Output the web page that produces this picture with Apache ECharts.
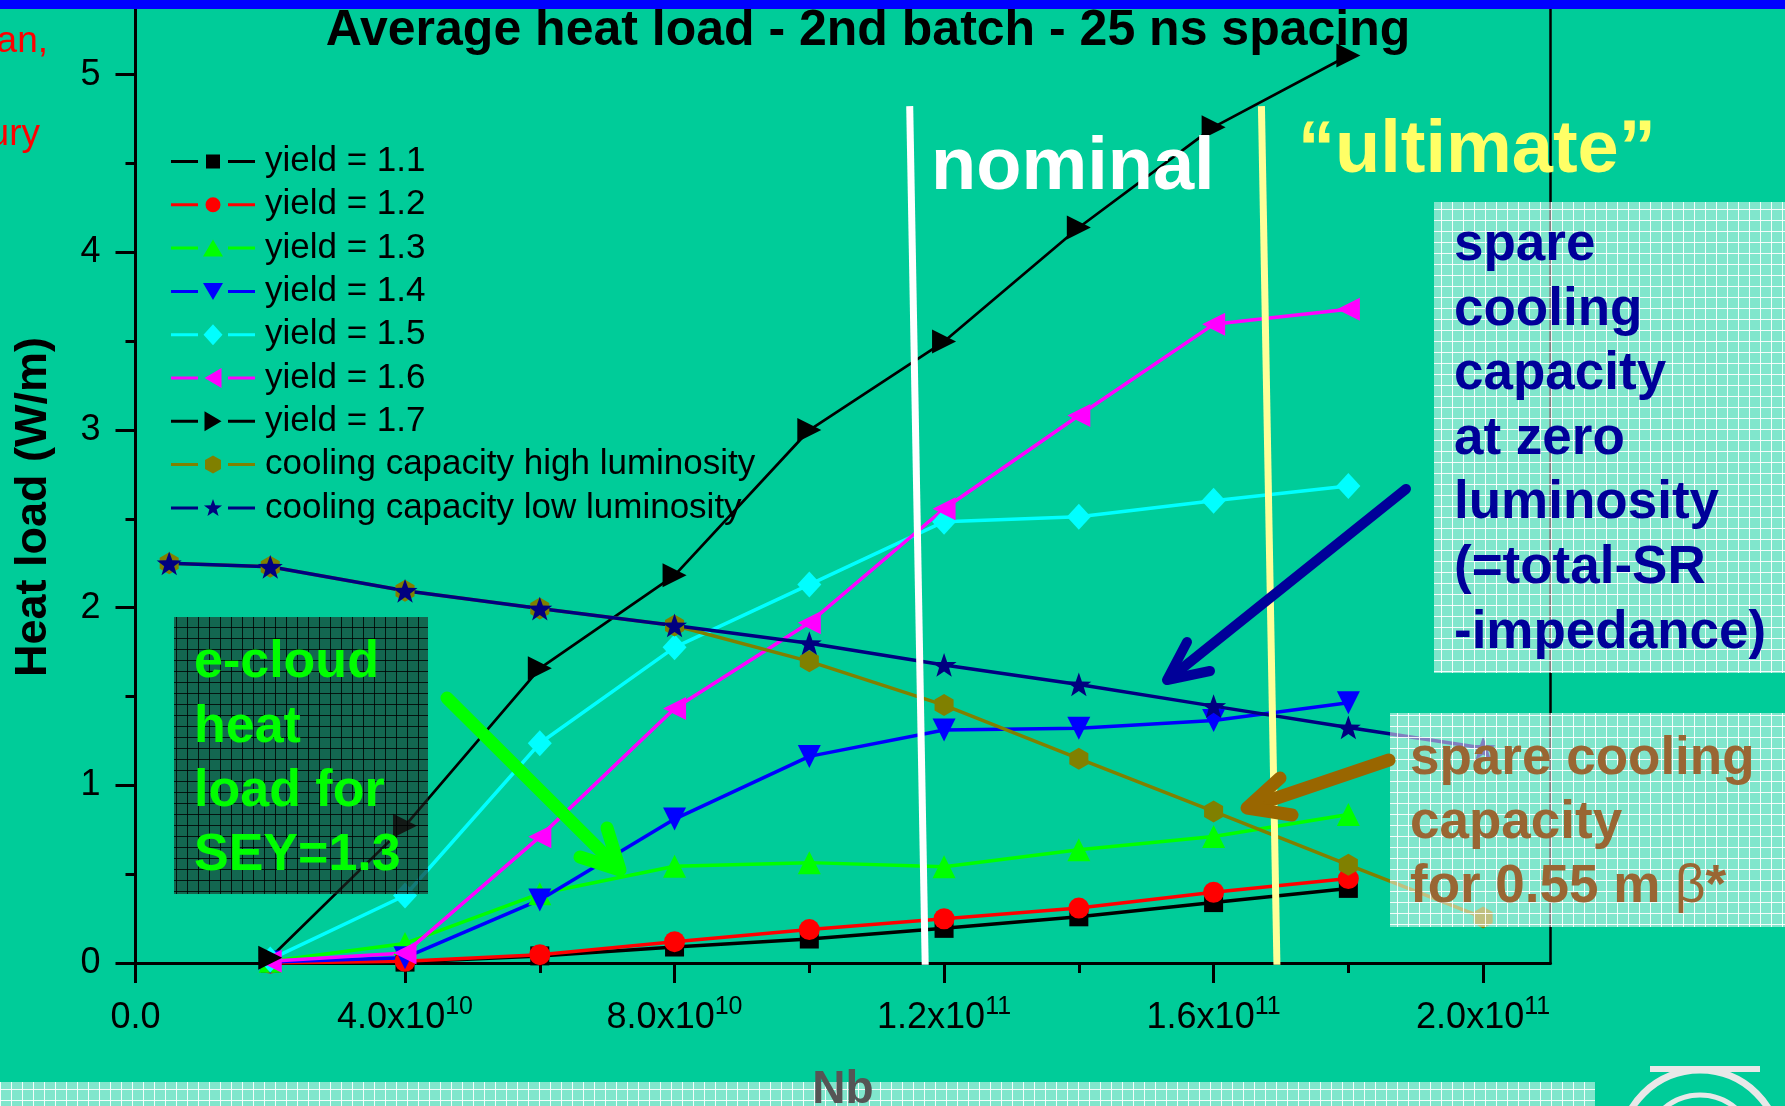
<!DOCTYPE html>
<html>
<head>
<meta charset="utf-8">
<script src="https://cdn.jsdelivr.net/npm/echarts@6/dist/echarts.min.js"></script>
<style>
html,body{margin:0;padding:0;background:#00cc99;}
#chart{width:1785px;height:1106px;}
</style>
</head>
<body>
<div id="chart"></div>
<script>
// ---------- DATA ----------
const nbYield = [2e10, 4e10, 6e10, 8e10, 1e11, 1.2e11, 1.4e11, 1.6e11, 1.8e11];
const yield11 = [0.0, 0.005, 0.04, 0.09, 0.135, 0.195, 0.26, 0.34, 0.42];
const yield12 = [0.0, 0.01, 0.047, 0.12, 0.188, 0.249, 0.309, 0.398, 0.475];
const yield13 = [0.01, 0.11, 0.39, 0.545, 0.565, 0.542, 0.638, 0.712, 0.836];
const yield14 = [0.005, 0.03, 0.355, 0.81, 1.163, 1.312, 1.322, 1.365, 1.465];
const yield15 = [0.02, 0.38, 1.237, 1.777, 2.13, 2.484, 2.512, 2.602, 2.685];
const yield16 = [0.01, 0.056, 0.71, 1.433, 1.915, 2.557, 3.082, 3.595, 3.68];
const yield17 = [0.03, 0.772, 1.659, 2.182, 3.0, 3.498, 4.14, 4.705, 5.108];
const nbCooling = [0.5e10, 2e10, 4e10, 6e10, 8e10, 1e11, 1.2e11, 1.4e11, 1.6e11, 1.8e11, 2e11];
const coolHigh = [2.25, 2.23, 2.095, 1.995, 1.9, 1.698, 1.452, 1.15, 0.853, 0.553, 0.256];
const coolLow  = [2.25, 2.23, 2.095, 1.995, 1.9, 1.8, 1.678, 1.568, 1.446, 1.326, 1.21];

const seriesNames = ['yield = 1.1','yield = 1.2','yield = 1.3','yield = 1.4','yield = 1.5','yield = 1.6','yield = 1.7',
  'cooling capacity high luminosity','cooling capacity low luminosity'];

const xMajorTicks = [0, 4e10, 8e10, 1.2e11, 1.6e11, 2e11];
const xMinorTicks = [2e10, 6e10, 1e11, 1.4e11, 1.8e11];
const xTickMant = ['0.0', '4.0', '8.0', '1.2', '1.6', '2.0'];
const xTickExp  = ['', '10', '10', '11', '11', '11'];
const yMajorTicks = [0, 1, 2, 3, 4, 5];
const yMinorTicks = [0.5, 1.5, 2.5, 3.5, 4.5];

// annotation lines (Nb, heat load): nominal and ultimate bunch intensities
const nominalNb   = [1.149e11, 1.172e11];
const ultimateNb  = [1.671e11, 1.694e11];
const markerLineY = [4.823, -0.01];

// ---------- STYLE ----------
const FF = "'Liberation Sans', Arial, Helvetica, sans-serif";
const HEX = 'path://M0,-10 L8.66,-5 L8.66,5 L0,10 L-8.66,5 L-8.66,-5 Z';
const STAR = 'path://M0,-10 L2.35,-3.24 L9.51,-3.09 L3.80,1.24 L5.88,8.09 L0,4 L-5.88,8.09 L-3.80,1.24 L-9.51,-3.09 L-2.35,-3.24 Z';

// legend icons: "— marker —" in an 84 x 21 box
const LBARS = 'M0,9 L27,9 L27,12 L0,12 Z M57,9 L84,9 L84,12 L57,12 Z ';
const LANCH = 'M42,0 L42.01,0 L42,0.01 Z M42,21 L42.01,21 L42,20.99 Z ';
const legendMarkers = [
  'M35,3.5 L49,3.5 L49,17.5 L35,17.5 Z',
  'M34.5,10.5 A7.5,7.5 0 1 0 49.5,10.5 A7.5,7.5 0 1 0 34.5,10.5 Z',
  'M42,2 L52,19 L32,19 Z',
  'M32,2 L52,2 L42,19 Z',
  'M42,0 L51.5,10.5 L42,21 L32.5,10.5 Z',
  'M33.5,10.5 L50.5,0.5 L50.5,20.5 Z',
  'M33.5,0.5 L50.5,10.5 L33.5,20.5 Z',
  'M42,1.5 L50,6 L50,15 L42,19.5 L34,15 L34,6 Z',
  'M42,1.5 L44.23,7.93 L51.04,8.06 L45.61,12.17 L47.58,18.69 L42,14.8 L36.42,18.69 L38.39,12.17 L32.96,8.06 L39.77,7.93 Z'
];

function pairs(xs, ys) { return xs.map((x, i) => [x, ys[i]]); }
function mk(name, xs, ys, color, symbol, size, rotate, lw) {
  return {
    type: 'line', name: name, data: pairs(xs, ys),
    xAxisIndex: 0, yAxisIndex: 0,
    symbol: symbol, symbolSize: size, symbolRotate: rotate, symbolKeepAspect: true,
    showAllSymbol: true,
    lineStyle: { color: color, width: lw },
    itemStyle: { color: color, borderWidth: 0 },
    emphasis: { disabled: true },
    z: 2
  };
}
function vline(name, xs, ys, color) {
  return {
    type: 'line', name: name, data: pairs(xs, ys), xAxisIndex: 0, yAxisIndex: 0,
    symbol: 'none', silent: true, lineStyle: { color: color, width: 7 },
    emphasis: { disabled: true }, z: 4
  };
}

function makePattern(bg, line, size) {
  const c = document.createElement('canvas');
  c.width = size; c.height = size;
  const g = c.getContext('2d');
  g.fillStyle = bg; g.fillRect(0, 0, size, size);
  g.fillStyle = line; g.fillRect(0, 0, size, 1); g.fillRect(0, 0, 1, size);
  return c;
}
const lightPat = { image: makePattern('rgba(255,255,255,0.5)', 'rgba(255,255,255,0.9)', 11), repeat: 'repeat' };
const darkPat  = { image: makePattern('rgba(30,40,35,0.62)', 'rgba(0,0,0,0.8)', 11), repeat: 'repeat' };

const series = [
  mk(seriesNames[0], nbYield, yield11, '#000000', 'rect', 19, 0, 3.5),
  mk(seriesNames[1], nbYield, yield12, '#ff0000', 'circle', 21, 0, 3.5),
  mk(seriesNames[2], nbYield, yield13, '#00ff00', 'triangle', 23, 0, 3.5),
  mk(seriesNames[3], nbYield, yield14, '#0000ff', 'triangle', 23, 180, 3.5),
  mk(seriesNames[4], nbYield, yield15, '#00ffff', 'diamond', [24, 26], 0, 3.5),
  mk(seriesNames[5], nbYield, yield16, '#ff00ff', 'triangle', 23, 90, 3.5),
  mk(seriesNames[6], nbYield, yield17, '#000000', 'triangle', 24, -90, 2.7),
  mk(seriesNames[7], nbCooling, coolHigh, '#808000', HEX, 22, 0, 3.5),
  mk(seriesNames[8], nbCooling, coolLow, '#000080', STAR, 25, 0, 3.5),
  vline('nominal', nominalNb, markerLineY, '#ffffff'),
  vline('ultimate', ultimateNb, markerLineY, '#ffff99')
];

function xLabel(v) {
  const i = xMajorTicks.findIndex(t => Math.abs(t - v) < 1);
  if (i < 0) return '';
  if (!xTickExp[i]) return '{a|' + xTickMant[i] + '}';
  return '{a|' + xTickMant[i] + 'x10}{b|' + xTickExp[i] + '}';
}

const axisLineStyle = { color: '#000', width: 3 };
const option = {
  animation: false,
  backgroundColor: '#00cc99',
  textStyle: { fontFamily: FF },
  title: {
    text: 'Average heat load - 2nd batch - 25 ns spacing',
    left: 868, top: 6, textAlign: 'center', padding: 0,
    textStyle: { fontSize: 50, fontWeight: 'bold', fontFamily: FF, color: '#000' }
  },
  grid: { left: 135.5, right: 234.5, top: 9, bottom: 143, containLabel: false, show: false },
  legend: {
    data: seriesNames.map((n, i) => ({ name: n, icon: 'path://' + LBARS + LANCH + legendMarkers[i] })),
    orient: 'vertical', left: 171, top: 144,
    itemWidth: 84, itemHeight: 21, itemGap: 8.3, selectedMode: false,
    symbolRotate: 0, symbolKeepAspect: false,
    padding: 0,
    textStyle: { fontSize: 35, fontFamily: FF, color: '#000', padding: [0, 0, 0, 5] }
  },
  xAxis: [
    {
      type: 'value', min: 0, max: 2.1e11, interval: 4e10, position: 'bottom',
      axisLine: { show: true, onZero: false, lineStyle: axisLineStyle },
      axisTick: { show: true, inside: false, length: 20, customValues: xMajorTicks, lineStyle: axisLineStyle },
      axisLabel: {
        show: true, customValues: xMajorTicks, margin: 35, formatter: xLabel, color: '#000',
        rich: {
          a: { fontSize: 36, fontFamily: FF, color: '#000', lineHeight: 40 },
          b: { fontSize: 25, fontFamily: FF, color: '#000', lineHeight: 25, padding: [0, 0, 21, 0] }
        }
      },
      splitLine: { show: false }
    },
    {
      type: 'value', min: 0, max: 2.1e11, interval: 2e10, position: 'bottom',
      axisLine: { show: false, onZero: false },
      axisTick: { show: true, inside: false, length: 10, customValues: xMinorTicks, lineStyle: axisLineStyle },
      axisLabel: { show: false },
      splitLine: { show: false }
    }
  ],
  yAxis: [
    {
      type: 'value', min: 0, max: 5.37, interval: 1, position: 'left',
      axisLine: { show: true, onZero: false, lineStyle: axisLineStyle },
      axisTick: { show: true, inside: false, length: 20, customValues: yMajorTicks, lineStyle: axisLineStyle },
      axisLabel: {
        show: true, customValues: yMajorTicks, margin: 35, fontSize: 36, fontFamily: FF, color: '#000',
        formatter: v => (yMajorTicks.indexOf(v) >= 0 ? String(v) : '')
      },
      splitLine: { show: false }
    },
    {
      type: 'value', min: 0, max: 5.37, interval: 0.5, position: 'left',
      axisLine: { show: false, onZero: false },
      axisTick: { show: true, inside: false, length: 10, customValues: yMinorTicks, lineStyle: axisLineStyle },
      axisLabel: { show: false },
      splitLine: { show: false }
    },
    {
      type: 'value', min: 0, max: 5.37, position: 'right',
      axisLine: { show: true, onZero: false, lineStyle: { color: '#000', width: 2.5 } },
      axisTick: { show: false }, axisLabel: { show: false }, splitLine: { show: false }
    }
  ],
  series: series,
  graphic: {
    elements: [
      // top blue bar
      { type: 'rect', z: 100, silent: true, shape: { x: 0, y: 0, width: 1785, height: 9 }, style: { fill: '#0000ff' } },
      // red cut-off slide text at top-left
      { type: 'text', z: 100, silent: true, style: { text: 'an,', x: 48, y: 42, font: '37px ' + FF, fill: '#ff0000', align: 'right', verticalAlign: 'middle' } },
      { type: 'text', z: 100, silent: true, style: { text: 'ury', x: 40, y: 135, font: '37px ' + FF, fill: '#ff0000', align: 'right', verticalAlign: 'middle' } },
      // y axis title
      { type: 'text', z: 100, silent: true, x: 34, y: 507, rotation: Math.PI / 2,
        style: { text: 'Heat load (W/m)', x: 0, y: 0, font: 'bold 45px ' + FF, fill: '#000', align: 'center', verticalAlign: 'middle' } },
      // nominal / ultimate labels
      { type: 'text', z: 100, silent: true, style: { text: 'nominal', x: 931, y: 169, font: 'bold 74px ' + FF, fill: '#ffffff', align: 'left', verticalAlign: 'middle' } },
      { type: 'text', z: 100, silent: true, style: { text: '\u201Cultimate\u201D', x: 1298, y: 152, font: 'bold 74px ' + FF, fill: '#ffff66', align: 'left', verticalAlign: 'middle' } },
      // right box: spare cooling capacity at zero luminosity
      { type: 'rect', z: 100, silent: true, shape: { x: 1434, y: 202, width: 360, height: 471 }, style: { fill: lightPat } },
      { type: 'text', z: 101, silent: true, style: {
          text: 'spare\ncooling\ncapacity\nat zero\nluminosity\n(=total-SR\n-impedance)',
          x: 1454, y: 213, font: 'bold 53px ' + FF, lineHeight: 64.6, fill: '#000099', align: 'left', verticalAlign: 'top' } },
      // bottom right box: spare cooling capacity for 0.55 m beta*
      { type: 'rect', z: 100, silent: true, shape: { x: 1390, y: 713, width: 400, height: 214 }, style: { fill: lightPat } },
      { type: 'text', z: 101, silent: true, style: {
          text: '{t|spare cooling}\n{t|capacity}\n{t|for 0.55 m }{g|\u03B2}{t|*}',
          x: 1410, y: 727, align: 'left', verticalAlign: 'top',
          rich: {
            t: { font: 'bold 53px ' + FF, fill: '#996633', lineHeight: 64 },
            g: { font: '53px ' + FF, fill: '#996633', lineHeight: 64 }
          } } },
      // green e-cloud box
      { type: 'rect', z: 100, silent: true, shape: { x: 174, y: 617, width: 254, height: 277 }, style: { fill: darkPat } },
      { type: 'text', z: 101, silent: true, style: {
          text: 'e-cloud\nheat\nload for\nSEY=1.3',
          x: 194, y: 631, font: 'bold 52px ' + FF, lineHeight: 64.3, fill: '#00ff00', align: 'left', verticalAlign: 'top' } },
      // arrows
      { type: 'polyline', z: 102, silent: true, shape: { points: [[447, 698], [617, 867]] }, style: { stroke: '#00ff00', lineWidth: 13, lineCap: 'round', fill: null } },
      { type: 'polyline', z: 102, silent: true, shape: { points: [[607, 828], [620, 870], [580, 857]] }, style: { stroke: '#00ff00', lineWidth: 13, lineCap: 'round', lineJoin: 'round', fill: null } },
      { type: 'polyline', z: 102, silent: true, shape: { points: [[1406, 489], [1170, 678]] }, style: { stroke: '#000099', lineWidth: 10, lineCap: 'round', fill: null } },
      { type: 'polyline', z: 102, silent: true, shape: { points: [[1187, 642], [1167, 680], [1210, 671]] }, style: { stroke: '#000099', lineWidth: 10, lineCap: 'round', lineJoin: 'round', fill: null } },
      { type: 'polyline', z: 102, silent: true, shape: { points: [[1389, 760], [1250, 807]] }, style: { stroke: '#996600', lineWidth: 13, lineCap: 'round', fill: null } },
      { type: 'polyline', z: 102, silent: true, shape: { points: [[1280, 778], [1247, 808], [1292, 815]] }, style: { stroke: '#996600', lineWidth: 13, lineCap: 'round', lineJoin: 'round', fill: null } },
      // bottom band and x axis title
      { type: 'rect', z: 100, silent: true, shape: { x: 0, y: 1082, width: 1595, height: 30 }, style: { fill: lightPat } },
      { type: 'text', z: 101, silent: true, style: { text: 'Nb', x: 843, y: 1090, font: 'bold 46px ' + FF, fill: '#555555', align: 'center', verticalAlign: 'middle' } },
      // logo fragment bottom right
      { type: 'arc', z: 100, silent: true, shape: { cx: 1700, cy: 1150, r: 80, startAngle: Math.PI, endAngle: 2 * Math.PI }, style: { stroke: '#e8e8e8', lineWidth: 7, fill: null } },
      { type: 'arc', z: 100, silent: true, shape: { cx: 1700, cy: 1150, r: 55, startAngle: Math.PI, endAngle: 2 * Math.PI }, style: { stroke: '#e8e8e8', lineWidth: 5, fill: null } },
      { type: 'rect', z: 100, silent: true, shape: { x: 1650, y: 1066, width: 110, height: 6 }, style: { fill: '#e8e8e8' } }
    ]
  }
};

const chart = echarts.init(document.getElementById('chart'), null, { renderer: 'canvas' });
chart.setOption(option);
</script>
</body>
</html>
